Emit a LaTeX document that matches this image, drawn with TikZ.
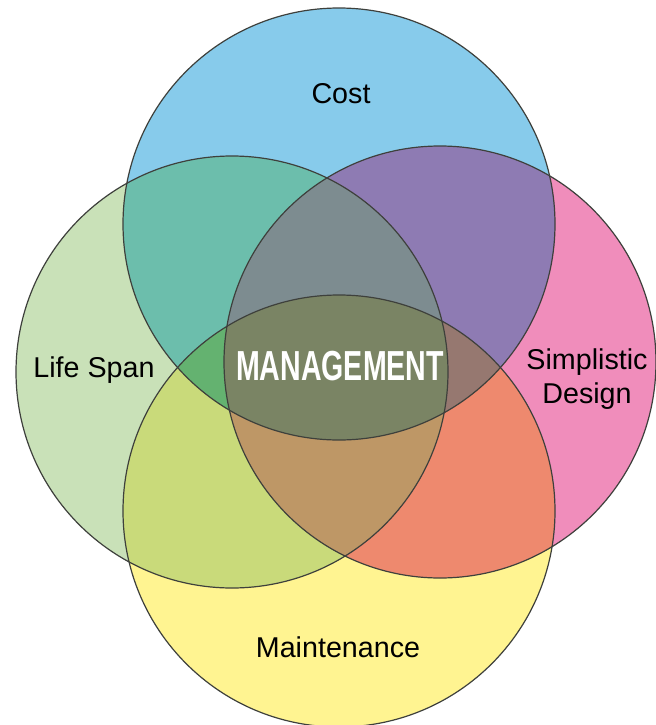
\documentclass[tikz,border=0pt]{standalone}
\usepackage{fontspec}
\setmainfont{Liberation Sans}
\usetikzlibrary{positioning}

\definecolor{costblue}{RGB}{135,203,235}
\definecolor{lifegreen}{RGB}{201,225,184}
\definecolor{simppink}{RGB}{240,141,187}
\definecolor{mainyellow}{RGB}{255,244,145}
\definecolor{tealmix}{RGB}{108,190,172}
\definecolor{purplemix}{RGB}{142,123,179}
\definecolor{limemix}{RGB}{201,218,122}
\definecolor{salmonmix}{RGB}{238,137,110}
\definecolor{graymix}{RGB}{125,140,144}
\definecolor{greenmix}{RGB}{100,178,112}
\definecolor{mauvemix}{RGB}{150,120,112}
\definecolor{tanmix}{RGB}{190,151,102}
\definecolor{olivemix}{RGB}{122,132,100}
\definecolor{ringgray}{RGB}{62,64,60}

\tikzset{
    ring/.style={draw=ringgray, line width=0.9pt},
    label/.style={anchor=base, inner sep=0pt, font=\fontsize{21.5}{25.5}\selectfont},
}

\begin{document}
\begin{tikzpicture}[x=0.75pt, y=-0.75pt]
            \useasboundingbox (0,0) rectangle (656,725);
            \fill[white] (0,0) rectangle (656,725);

            \coordinate (T) at (339,224);
            \coordinate (L) at (232,372);
            \coordinate (R) at (440,362);
            \coordinate (B) at (339,511);
            \def\rad{216}

            \foreach \c/\col in {T/costblue, L/lifegreen, R/simppink, B/mainyellow} {
                \fill[\col] (\c) circle (\rad);
            }

            \foreach \a/\b/\col in {T/L/tealmix, T/R/purplemix, L/B/limemix, R/B/salmonmix} {
                \begin{scope}
                    \clip (\a) circle (\rad);
                    \fill[\col] (\b) circle (\rad);
                \end{scope}
            }

            \foreach \a/\b/\c/\col in {T/L/R/graymix, T/L/B/greenmix, T/R/B/mauvemix, L/R/B/tanmix} {
                \begin{scope}
                    \clip (\a) circle (\rad);
                    \clip (\b) circle (\rad);
                    \fill[\col] (\c) circle (\rad);
                \end{scope}
            }

            \begin{scope}
                \clip (T) circle (\rad);
                \clip (L) circle (\rad);
                \clip (R) circle (\rad);
                \fill[olivemix] (B) circle (\rad);
            \end{scope}

            \foreach \c in {T,L,R,B} {
                \draw[ring] (\c) circle (\rad);
            }

            \node[label] (cost) at (341,103) {Cost};
            \node[label] (life) at (94,377) {Life Span};
            \node[label] (maint) at (338,657) {Maintenance};
            \node[label, anchor=center, align=center] (simp) at (587,379) {Simplistic\\Design};
            \node[anchor=base, inner sep=0pt, text=white] (mgmt) at (340,380)
                {\scalebox{0.68}[1]{\fontsize{31.5}{31.5}\selectfont\bfseries MANAGEMENT}};
        \end{tikzpicture}
\end{document}
